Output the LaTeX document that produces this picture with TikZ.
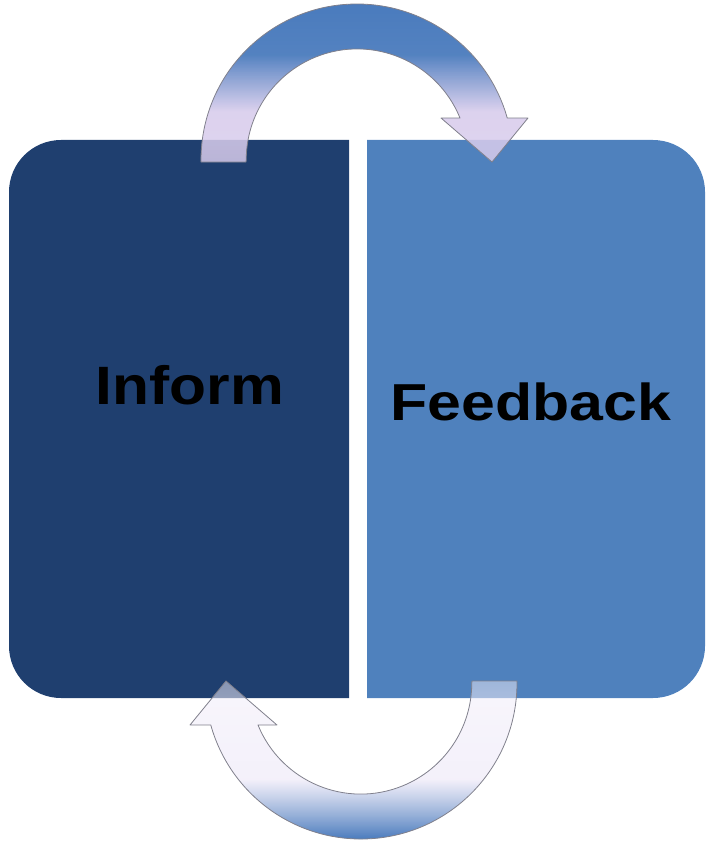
\documentclass[tikz,border=0pt]{standalone}
\usepackage{fontspec}
\setmainfont{Liberation Sans}
\usetikzlibrary{fadings}
\definecolor{leftbox}{RGB}{31,63,111}
\definecolor{rightbox}{RGB}{79,129,189}
\definecolor{arrowblue}{RGB}{74,123,189}
\definecolor{arrowlav}{RGB}{216,204,236}
\definecolor{arrowpale}{RGB}{241,237,249}
\definecolor{arrowedge}{RGB}{128,128,140}
\pgfdeclareverticalshading{toparrow}{100bp}{color(0bp)=(arrowlav); color(41bp)=(arrowlav); color(59bp)=(arrowblue); color(100bp)=(arrowblue)}
\pgfdeclareverticalshading{bottomarrow}{100bp}{color(0bp)=(arrowblue); color(25bp)=(arrowblue); color(44bp)=(arrowpale); color(100bp)=(arrowpale)}
\tikzfading[name=topfade, top color=transparent!0, bottom color=transparent!16]
\tikzfading[name=bottomfade, top color=transparent!50, bottom color=transparent!0]
\tikzset{
  arrowedge/.style={draw=arrowedge, line width=.8, line join=round},
  boxlabel/.style={font=\bfseries\fontsize{#1}{#1}\selectfont, anchor=base, inner sep=0}
}
\newcommand{\toparrowpath}{(201,162) -- (201,160) arc[start angle=180, end angle=344.4, radius=156]
  -- (528,118) -- (492,162) -- (441,118) -- (460,118)
  arc[start angle=337.8, end angle=180, radius=111] -- (246,162) -- cycle}
\newcommand{\bottomarrowpath}{(517,681) -- (517,683) arc[start angle=0, end angle=164.4, radius=156]
  -- (190,725) -- (226,681) -- (277,725) -- (258,725)
  arc[start angle=157.8, end angle=0, radius=111] -- (472,681) -- cycle}

\begin{document}
\begin{tikzpicture} [x=1pt, y=-1pt]
\useasboundingbox (0,0) rectangle (706,842);
% the two halves
\fill[leftbox] (349,140) -- (61,140) arc[start angle=270, end angle=180, radius=52]
  -- (9,646) arc[start angle=180, end angle=90, radius=52] -- (349,698) -- cycle;
\fill[rightbox] (367,140) -- (653,140) arc[start angle=270, end angle=360, radius=52]
  -- (705,646) arc[start angle=0, end angle=90, radius=52] -- (367,698) -- cycle;
\node[boxlabel=54, xscale=1.12] (inform) at (190,404) {Inform};
\node[boxlabel=52, xscale=1.17] (feedback) at (531,420) {Feedback};
% top arrow, left to right
\path[shading=toparrow, path fading=topfade] \toparrowpath;
\draw[arrowedge] \toparrowpath;
% bottom arrow, right to left
\path[shading=bottomarrow, path fading=bottomfade] \bottomarrowpath;
\draw[arrowedge] \bottomarrowpath;
\end{tikzpicture}
\end{document}
